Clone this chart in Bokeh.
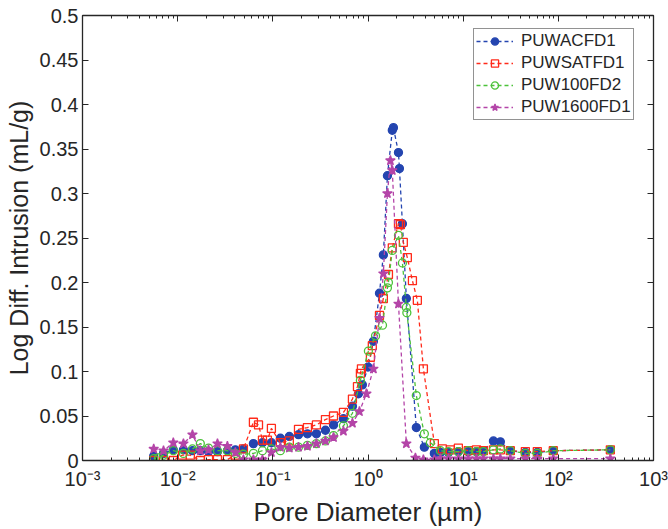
from bokeh.plotting import figure
from bokeh.models import (LogAxis, LinearAxis, Legend, LegendItem, Range1d,
                          SingleIntervalTicker, CustomJSTickFormatter, LogTicker)
from bokeh.embed import file_html
from bokeh.resources import INLINE

# ---- data (pore diameter in um, log differential intrusion in mL/g) ----
acf_d = [0.0056, 0.0071, 0.0090, 0.0115, 0.0143, 0.0173, 0.0211, 0.0262, 0.0333, 0.0404,
         0.0491, 0.0625, 0.0778, 0.0966, 0.120, 0.149, 0.186, 0.231, 0.287, 0.357,
         0.434, 0.552, 0.686, 0.793, 0.873, 1.00, 1.14, 1.32, 1.45, 1.60,
         1.80, 1.85, 2.09, 2.14, 2.30, 2.53, 3.22, 3.91, 4.98, 5.77,
         7.0, 8.9, 11.3, 13.8, 16.3, 20.8, 24.6, 31.3, 45.0, 60.1,
         88.5, 352]
acf_v = [0.005, 0.008, 0.012, 0.012, 0.011, 0.011, 0.010, 0.010, 0.011, 0.012,
         0.013, 0.019, 0.020, 0.020, 0.025, 0.027, 0.029, 0.030, 0.030, 0.034,
         0.040, 0.047, 0.061, 0.075, 0.085, 0.105, 0.134, 0.188, 0.231, 0.320,
         0.371, 0.374, 0.346, 0.328, 0.266, 0.182, 0.037, 0.015, 0.008, 0.009,
         0.009, 0.010, 0.010, 0.010, 0.011, 0.022, 0.021, 0.011, 0.009, 0.009,
         0.011, 0.012]

sat_d = [0.0056, 0.0071, 0.0090, 0.0112, 0.0136, 0.0173, 0.0211, 0.0262, 0.0333, 0.0404,
         0.0491, 0.0625, 0.0707, 0.0778, 0.0877, 0.0966, 0.120, 0.149, 0.186, 0.231,
         0.287, 0.357, 0.434, 0.552, 0.686, 0.775, 0.832, 0.853, 1.06, 1.11,
         1.32, 1.45, 1.64, 1.80, 2.09, 2.19, 2.35, 2.59, 2.93, 3.30,
         3.82, 4.98, 6.05, 7.34, 8.9, 11.3, 13.8, 16.3, 20.8, 24.6,
         31.3, 45.0, 60.1, 88.5, 352]
sat_v = [0.000, 0.000, 0.000, 0.006, 0.006, 0.000, 0.001, 0.001, 0.001, 0.006,
         0.013, 0.043, 0.040, 0.023, 0.023, 0.036, 0.020, 0.022, 0.035, 0.037,
         0.040, 0.046, 0.050, 0.054, 0.069, 0.083, 0.098, 0.103, 0.116, 0.129,
         0.163, 0.182, 0.209, 0.239, 0.266, 0.265, 0.245, 0.228, 0.202, 0.180,
         0.103, 0.019, 0.013, 0.012, 0.014, 0.011, 0.012, 0.011, 0.012, 0.012,
         0.011, 0.010, 0.010, 0.011, 0.012]

w100_d = [0.0056, 0.0063, 0.0071, 0.0090, 0.0115, 0.0143, 0.0173, 0.0211, 0.0262, 0.0333,
          0.0404, 0.0491, 0.0625, 0.0778, 0.0966, 0.120, 0.149, 0.186, 0.231, 0.287,
          0.357, 0.434, 0.552, 0.686, 0.832, 1.01, 1.20, 1.42, 1.60, 1.64,
          1.80, 2.09, 2.30, 2.53, 2.56, 3.22, 3.91, 4.52, 5.77, 7.0,
          8.9, 11.3, 13.8, 16.3, 20.8, 24.6, 31.3, 45.0, 60.1, 88.5,
          352]
w100_v = [0.002, 0.003, 0.006, 0.011, 0.008, 0.013, 0.019, 0.014, 0.011, 0.011,
          0.008, 0.007, 0.008, 0.011, 0.013, 0.011, 0.015, 0.015, 0.017, 0.019,
          0.022, 0.028, 0.039, 0.053, 0.090, 0.123, 0.140, 0.152, 0.194, 0.200,
          0.236, 0.253, 0.222, 0.172, 0.166, 0.073, 0.030, 0.020, 0.011, 0.010,
          0.010, 0.011, 0.010, 0.010, 0.012, 0.013, 0.011, 0.008, 0.008, 0.011,
          0.012]

w1600_d = [0.0056, 0.0071, 0.0090, 0.0115, 0.0143, 0.0173, 0.0211, 0.0262, 0.0333, 0.0404,
           0.0491, 0.0625, 0.0778, 0.0966, 0.120, 0.149, 0.186, 0.231, 0.287, 0.357,
           0.434, 0.552, 0.686, 0.813, 0.962, 1.14, 1.32, 1.45, 1.60, 1.72,
           1.80, 2.09, 2.53, 3.15, 3.82, 4.98, 5.77, 7.0, 8.9, 11.3,
           13.8, 16.3, 20.8, 24.6, 31.3, 45.0, 60.1, 88.5, 352]
w1600_v = [0.013, 0.011, 0.020, 0.019, 0.029, 0.011, 0.012, 0.019, 0.016, 0.009,
           0.001, 0.001, 0.001, 0.009, 0.015, 0.014, 0.015, 0.016, 0.019, 0.022,
           0.026, 0.033, 0.042, 0.055, 0.075, 0.103, 0.160, 0.210, 0.300, 0.337,
           0.326, 0.176, 0.019, 0.003, 0.001, 0.001, 0.002, 0.002, 0.002, 0.002,
           0.002, 0.002, 0.002, 0.002, 0.002, 0.002, 0.002, 0.002, 0.002]

names = ["PUWACFD1", "PUWSATFD1", "PUW100FD2", "PUW1600FD1"]
y_ticks_interval = 0.05

FONT = "Liberation Sans"
TXT = "#262626"

p = figure(width=668, height=529, x_axis_type="log",
           x_range=Range1d(1e-3, 1e3), y_range=Range1d(0, 0.5),
           output_backend="svg", toolbar_location=None,
           min_border_left=82, min_border_right=15, min_border_top=15, min_border_bottom=69)
p.xgrid.visible = False
p.ygrid.visible = False
p.outline_line_color = None
p.background_fill_color = "white"

sup_code = """
const e = Math.round(Math.log10(tick));
const sup = {'-':'\\u207b','0':'\\u2070','1':'\\u00b9','2':'\\u00b2','3':'\\u00b3','4':'\\u2074',
             '5':'\\u2075','6':'\\u2076','7':'\\u2077','8':'\\u2078','9':'\\u2079'};
return '10' + String(e).split('').map(c => sup[c]).join('');
"""

def style_axis(ax):
    ax.axis_line_color = TXT
    ax.axis_line_width = 1.3
    ax.major_tick_line_color = TXT
    ax.minor_tick_line_color = TXT
    ax.major_tick_in = 6
    ax.major_tick_out = 0
    ax.minor_tick_in = 3
    ax.minor_tick_out = 0
    ax.major_label_text_color = TXT
    ax.major_label_text_font = FONT
    ax.axis_label_text_color = TXT
    ax.axis_label_text_font = FONT
    ax.axis_label_text_font_style = "normal"

xa = p.xaxis[0]
style_axis(xa)
xa.ticker = LogTicker(num_minor_ticks=10)
xa.formatter = CustomJSTickFormatter(code=sup_code)
xa.major_label_text_font_size = "20px"
xa.major_label_standoff = 7
xa.axis_label = "Pore Diameter (\u00b5m)"
xa.axis_label_text_font_size = "26px"
xa.axis_label_standoff = 4

ya = p.yaxis[0]
style_axis(ya)
yticker = SingleIntervalTicker(interval=y_ticks_interval, num_minor_ticks=0)
ya.ticker = yticker
ya.formatter = CustomJSTickFormatter(code="return (Math.round(tick*100)/100).toString();")
ya.major_label_text_font_size = "20px"
ya.major_label_standoff = 4
ya.axis_label = "Log Diff. Intrusion (mL/g)"
ya.axis_label_text_font_size = "25px"
ya.axis_label_standoff = 4

top = LogAxis(ticker=LogTicker(num_minor_ticks=10), formatter=CustomJSTickFormatter(code="return '';"))
style_axis(top)
top.major_label_text_font_size = "1px"
top.major_label_standoff = 0
p.add_layout(top, "above")

right = LinearAxis(ticker=SingleIntervalTicker(interval=y_ticks_interval, num_minor_ticks=0),
                   formatter=CustomJSTickFormatter(code="return '';"))
style_axis(right)
right.major_label_text_font_size = "1px"
right.major_label_standoff = 0
p.add_layout(right, "right")

series = [
    (acf_d, acf_v, "#2445b0", "circle", 8, True),
    (sat_d, sat_v, "#ff2a1a", "square", 8, False),
    (w100_d, w100_v, "#4cc23a", "circle", 8, False),
    (w1600_d, w1600_v, "#b445a8", "star", 10, True),
]

items = []
for (d, v, col, mk, sz, filled), name in zip(series, names):
    ln = p.line(d, v, line_color=col, line_dash="4 3", line_width=1.3)
    sc = p.scatter(d, v, marker=mk, size=sz, line_color=col, line_width=1.3,
                   fill_color=col if filled else "white", fill_alpha=1.0 if filled else 0.0)
    items.append(LegendItem(label=name, renderers=[ln, sc]))

legend = Legend(items=items, location=(391, 340), margin=0, padding=2, spacing=2,
                glyph_width=37, glyph_height=18, label_height=18, label_standoff=8,
                label_text_font=FONT, label_text_font_size="17px", label_text_color=TXT,
                border_line_color=TXT, border_line_width=1, background_fill_color="white",
                background_fill_alpha=1.0)
p.add_layout(legend)

open("out.html", "w").write(file_html(p, INLINE))
